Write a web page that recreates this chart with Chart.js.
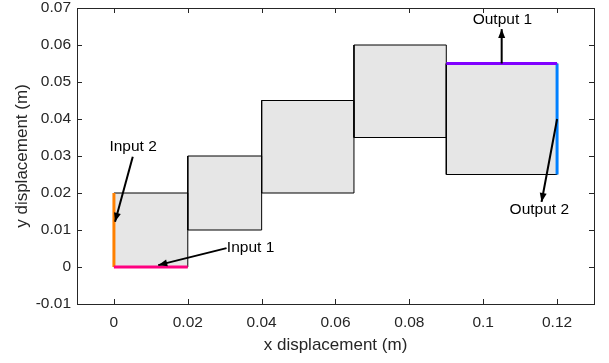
<!DOCTYPE html>
<html>
<head>
<meta charset="utf-8">
<script src="https://cdn.jsdelivr.net/npm/chart.js@4.4.0/dist/chart.umd.min.js"></script>
<style>
  body { margin: 0; background: #fff; }
</style>
</head>
<body>
<canvas id="chart" width="609" height="363"></canvas>
<script>
// blocks: x from/to, y from/to
var blockX0 = [0, 0.02, 0.04, 0.065, 0.09];
var blockX1 = [0.02, 0.04, 0.065, 0.09, 0.12];
var blockY0 = [0, 0.01, 0.02, 0.035, 0.025];
var blockY1 = [0.02, 0.03, 0.045, 0.06, 0.055];

// coloured edges: [x0, y0, x1, y1]
var edgeNames = ["Input 1", "Input 2", "Output 1", "Output 2"];
var edgeColors = ["#ff0080", "#ff8000", "#8000ff", "#0080ff"];
var edgeLines = [
  [0, 0, 0.02, 0],
  [0, 0, 0, 0.02],
  [0.09, 0.055, 0.12, 0.055],
  [0.12, 0.025, 0.12, 0.055]
];

// arrows: tail -> head, and label position
var arrowTail = [[0.0305, 0.0051], [0.0051, 0.0298], [0.105, 0.055], [0.12, 0.04]];
var arrowHead = [[0.012, 0.0005], [0.0003, 0.0122], [0.105, 0.0643], [0.1158, 0.0176]];
var labelPos = [[0.037, 0.0053], [0.0052, 0.0324], [0.1052, 0.0668], [0.1152, 0.0154]];

var xTicks = [0, 0.02, 0.04, 0.06, 0.08, 0.1, 0.12];
var xTickLabels = ["0", "0.02", "0.04", "0.06", "0.08", "0.1", "0.12"];
var yTicks = [-0.01, 0, 0.01, 0.02, 0.03, 0.04, 0.05, 0.06, 0.07];
var yTickLabels = ["-0.01", "0", "0.01", "0.02", "0.03", "0.04", "0.05", "0.06", "0.07"];

var FONT = "'Liberation Sans', Arial, Helvetica, sans-serif";
var AXIS = "#262626";

var datasets = [];
for (var i = 0; i < blockX0.length; i++) {
  // fill: top edge filled down to the bottom value
  datasets.push({
    data: [{ x: blockX0[i], y: blockY1[i] }, { x: blockX1[i], y: blockY1[i] }],
    fill: { value: blockY0[i] },
    backgroundColor: "#e6e6e6",
    borderWidth: 0,
    pointRadius: 0,
    order: 10
  });
  // outline
  datasets.push({
    data: [
      { x: blockX0[i], y: blockY0[i] },
      { x: blockX1[i], y: blockY0[i] },
      { x: blockX1[i], y: blockY1[i] },
      { x: blockX0[i], y: blockY1[i] },
      { x: blockX0[i], y: blockY0[i] }
    ],
    borderColor: "#000",
    borderWidth: 1,
    pointRadius: 0,
    fill: false,
    order: 8
  });
}
for (var j = 0; j < edgeLines.length; j++) {
  var e = edgeLines[j];
  datasets.push({
    label: edgeNames[j],
    data: [{ x: e[0], y: e[1] }, { x: e[2], y: e[3] }],
    borderColor: edgeColors[j],
    borderWidth: 3,
    pointRadius: 0,
    fill: false,
    order: 4
  });
}
for (var k = 0; k < arrowTail.length; k++) {
  datasets.push({
    label: "arrow",
    data: [{ x: arrowTail[k][0], y: arrowTail[k][1] }, { x: arrowHead[k][0], y: arrowHead[k][1] }],
    borderColor: "#000",
    borderWidth: 2,
    pointRadius: 0,
    fill: false,
    order: 1
  });
}

// arrow heads, text labels, box and inward ticks
var extras = {
  id: "extras",
  afterDatasetsDraw(chart) {
    var ctx = chart.ctx;
    var xs = chart.scales.x, ys = chart.scales.y;
    ctx.save();
    ctx.fillStyle = "#000";
    for (var k = 0; k < arrowTail.length; k++) {
      var x1 = xs.getPixelForValue(arrowTail[k][0]), y1 = ys.getPixelForValue(arrowTail[k][1]);
      var x2 = xs.getPixelForValue(arrowHead[k][0]), y2 = ys.getPixelForValue(arrowHead[k][1]);
      var a = Math.atan2(y2 - y1, x2 - x1);
      var len = 9, w = 3.5;
      ctx.beginPath();
      ctx.moveTo(x2, y2);
      ctx.lineTo(x2 - len * Math.cos(a) + w * Math.sin(a), y2 - len * Math.sin(a) - w * Math.cos(a));
      ctx.lineTo(x2 - len * Math.cos(a) - w * Math.sin(a), y2 - len * Math.sin(a) + w * Math.cos(a));
      ctx.closePath();
      ctx.fill();
    }
    ctx.font = "15.5px " + FONT;
    ctx.textBaseline = "middle";
    ctx.textAlign = "center";
    for (var m = 0; m < labelPos.length; m++) {
      ctx.fillText(edgeNames[m], xs.getPixelForValue(labelPos[m][0]), ys.getPixelForValue(labelPos[m][1]));
    }
    ctx.restore();
  },
  afterDraw(chart) {
    var ctx = chart.ctx, a = chart.chartArea;
    var xs = chart.scales.x, ys = chart.scales.y;
    ctx.save();
    ctx.strokeStyle = AXIS;
    ctx.lineWidth = 1;
    ctx.strokeRect(Math.round(a.left) + 0.5, Math.round(a.top) + 0.5,
      Math.round(a.right - a.left), Math.round(a.bottom - a.top));
    ctx.beginPath();
    xTicks.forEach(function (v) {
      var p = Math.round(xs.getPixelForValue(v)) + 0.5;
      ctx.moveTo(p, a.bottom); ctx.lineTo(p, a.bottom - 5);
      ctx.moveTo(p, a.top); ctx.lineTo(p, a.top + 5);
    });
    yTicks.forEach(function (v) {
      var p = Math.round(ys.getPixelForValue(v)) + 0.5;
      ctx.moveTo(a.left, p); ctx.lineTo(a.left + 5, p);
      ctx.moveTo(a.right, p); ctx.lineTo(a.right - 5, p);
    });
    ctx.stroke();
    ctx.restore();
  }
};

new Chart(document.getElementById("chart"), {
  type: "scatter",
  data: { datasets: datasets },
  plugins: [extras],
  options: {
    responsive: false,
    devicePixelRatio: 1,
    animation: false,
    showLine: true,
    layout: { padding: { top: 0, right: 15, left: 0, bottom: 0 } },
    plugins: { legend: { display: false }, tooltip: { enabled: false } },
    scales: {
      x: {
        type: "linear",
        min: -0.01,
        max: 0.13,
        afterBuildTicks: function (s) { s.ticks = xTicks.map(function (v) { return { value: v }; }); },
        afterFit: function (s) { s.height = 59; s.paddingRight = 0; s.paddingLeft = 0; },
        grid: { display: false, drawTicks: false },
        border: { display: false },
        ticks: {
          color: AXIS,
          padding: 9,
          maxRotation: 0,
          autoSkip: false,
          font: { family: FONT, size: 15.5 },
          callback: function (v, i) { return xTickLabels[i]; }
        },
        title: {
          display: true,
          text: "x displacement (m)",
          color: AXIS,
          font: { family: FONT, size: 17 },
          padding: { top: 0, bottom: 7 }
        }
      },
      y: {
        type: "linear",
        min: -0.01,
        max: 0.07,
        afterBuildTicks: function (s) { s.ticks = yTicks.map(function (v) { return { value: v }; }); },
        afterFit: function (s) { s.width = 77; s.paddingTop = 8; s.paddingBottom = 0; },
        grid: { display: false, drawTicks: false },
        border: { display: false },
        ticks: {
          color: AXIS,
          padding: 6,
          autoSkip: false,
          font: { family: FONT, size: 15.5 },
          callback: function (v, i) { return yTickLabels[i]; }
        },
        title: {
          display: true,
          text: "y displacement (m)",
          color: AXIS,
          font: { family: FONT, size: 17 },
          padding: { top: 12, bottom: 0 }
        }
      }
    }
  }
});
</script>
</body>
</html>
